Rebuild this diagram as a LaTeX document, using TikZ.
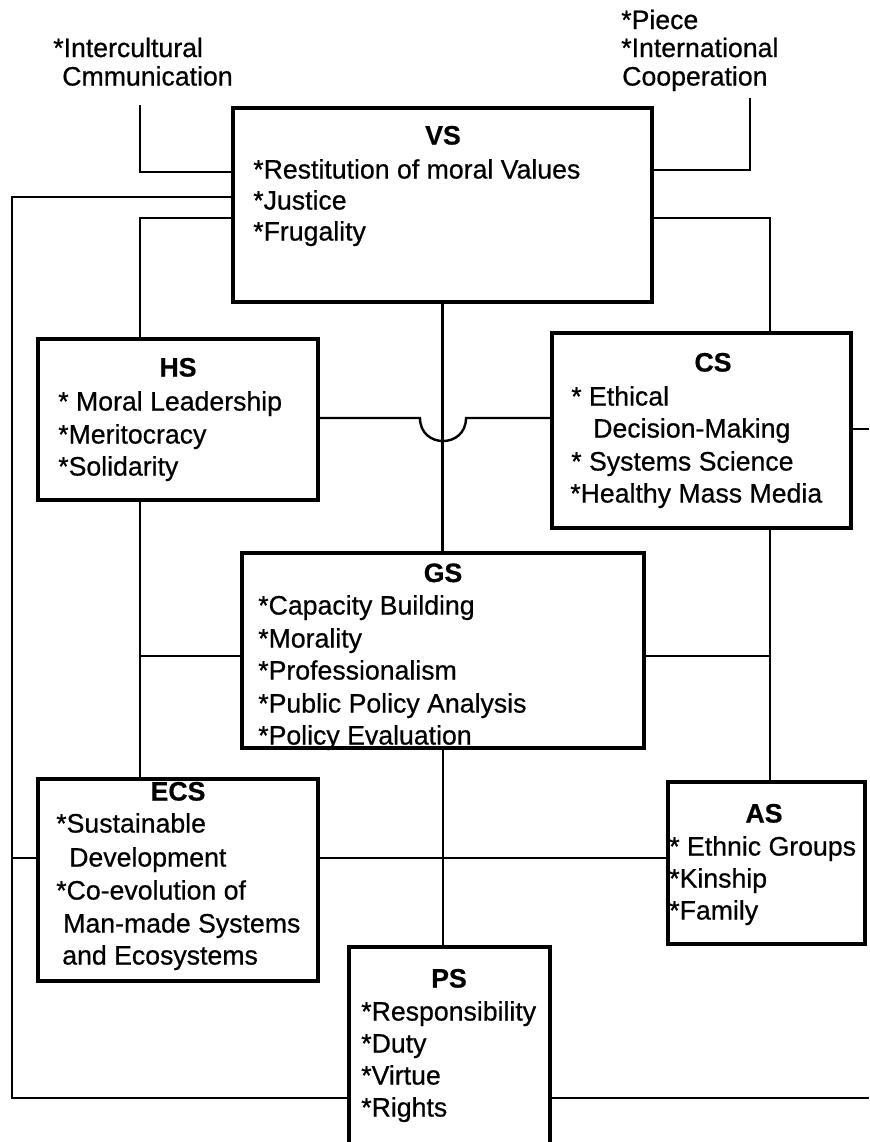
\documentclass[tikz,border=0pt]{standalone}
\usepackage{fontspec}
\setmainfont{Liberation Sans}[FakeBold=0.6]
\begin{document}
\begin{tikzpicture}[x=0.75pt,y=-0.75pt,
  sysbox/.style 2 args={draw=black, line width=2.4pt, fill=white, inner sep=0pt, outer sep=0pt,
    minimum width=#1*0.75pt, minimum height=#2*0.75pt},
  link/.style={draw=black, line width=1.8pt},
  item/.style={anchor=west, inner sep=0pt, text height=14.3pt, text depth=0pt,
    font=\fontsize{20}{24}\selectfont},
  head/.style={anchor=center, inner sep=0pt, text height=14.3pt, text depth=0pt,
    font=\fontsize{20}{24}\selectfont\bfseries},
]
\clip (0,0) rectangle (869,1142);

% subsystem boxes
\node[sysbox={419}{194}] (vs)  at (442.5,205)   {};
\node[sysbox={280}{161}] (hs)  at (178,419.5)   {};
\node[sysbox={299}{195}] (cs)  at (701.5,430.5) {};
\node[sysbox={402}{195}] (gs)  at (443,650.5)   {};
\node[sysbox={280}{202}] (ecs) at (178,880)     {};
\node[sysbox={197}{162}] (as)  at (766.5,863)   {};
\node[sysbox={201}{226}] (ps)  at (449.5,1060)  {};

% bend points and free ends of the connectors
\coordinate (icEnd)  at (140,105);
\coordinate (icBend) at (140,172);
\coordinate (pcEnd)  at (750,98);
\coordinate (pcBend) at (750,170);
\coordinate (lrTop)  at (12,197);
\coordinate (lrMid)  at (12,858);
\coordinate (lrBot)  at (12,1098);
\coordinate (hsRail) at (140,218);
\coordinate (csRail) at (770,218);
\coordinate (gsW)    at (140,656);
\coordinate (gsE)    at (770,656);
\coordinate (csOut)  at (869,429);
\coordinate (psOut)  at (869,1098);
\coordinate (jumpL)  at (420,418);
\coordinate (jumpR)  at (466,418);

% connectors
\draw[link] (icEnd) -- (icBend) -- (vs.west |- icBend);
\draw[link] (pcEnd) -- (pcBend) -- (vs.east |- pcBend);
\draw[link] (vs.west |- lrTop) -- (lrTop) -- (lrBot) -- (ps.west |- lrBot);
\draw[link] (ecs.west |- lrMid) -- (lrMid);
\draw[link] (ps.east |- psOut) -- (psOut);
\draw[link] (cs.east |- csOut) -- (csOut);
\draw[link] (vs.west |- hsRail) -- (hsRail) -- (hs.north -| hsRail);
\draw[link] (hs.south -| hsRail) -- (ecs.north -| hsRail);
\draw[link] (vs.east |- csRail) -- (csRail) -- (cs.north -| csRail);
\draw[link] (cs.south -| csRail) -- (as.north -| csRail);
\draw[link] (gs.west |- gsW) -- (gsW);
\draw[link] (gs.east |- gsE) -- (gsE);
\draw[link] (vs.south) -- (gs.north -| vs.south);
\draw[link] (gs.south) -- (ps.north -| gs.south);
\draw[link] (ecs.east |- lrMid) -- (as.west |- lrMid);
\draw[link] (hs.east |- jumpL) -- (jumpL)
  .. controls +(0,30.7) and +(0,30.7) .. (jumpR) -- (cs.west |- jumpR);

% outside labels
\node[item] (ic-1) at (53,47.5) {*Intercultural};
\node[item] (ic-2) at (62,76)   {Cmmunication};
\node[item] (pc-1) at (621,19.5) {*Piece};
\node[item] (pc-2) at (621,47.5) {*International};
\node[item] (pc-3) at (622,76)   {Cooperation};

% box contents
\node[head] (vs-h) at (443,135) {VS};
\foreach \xx/\yy/\t [count=\k] in {253/169/{*Restitution of moral Values}, 253/200/{*Justice}, 253/231/{*Frugality}}
  \node[item] (vs-\k) at (\xx,\yy) {\t};

\node[head] (hs-h) at (178,367) {HS};
\foreach \xx/\yy/\t [count=\k] in {58/401/{* Moral Leadership}, 58/434/{*Meritocracy}, 58/466/{*Solidarity}}
  \node[item] (hs-\k) at (\xx,\yy) {\t};

\node[head] (cs-h) at (713,362) {CS};
\foreach \xx/\yy/\t [count=\k] in {571/396/{* Ethical}, 593/428/{Decision-Making}, 571/461/{* Systems Science}, 570/493/{*Healthy Mass Media}}
  \node[item] (cs-\k) at (\xx,\yy) {\t};

\node[head] (gs-h) at (443,572.5) {GS};
\foreach \xx/\yy/\t [count=\k] in {258/605/{*Capacity Building}, 258/638/{*Morality}, 258/670/{*Professionalism}, 258/703/{*Public Policy Analysis}, 258/735/{*Policy Evaluation}}
  \node[item] (gs-\k) at (\xx,\yy) {\t};

\node[head] (ecs-h) at (178,791) {ECS};
\foreach \xx/\yy/\t [count=\k] in {56/823/{*Sustainable}, 69/857/{Development}, 56/890/{*Co-evolution of}, 63/923/{Man-made Systems}, 62/955/{and Ecosystems}}
  \node[item] (ecs-\k) at (\xx,\yy) {\t};

\node[head] (as-h) at (764,813) {AS};
\foreach \xx/\yy/\t [count=\k] in {669/846/{* Ethnic Groups}, 669/878/{*Kinship}, 669/910/{*Family}}
  \node[item] (as-\k) at (\xx,\yy) {\t};

\node[head] (ps-h) at (449,978) {PS};
\foreach \xx/\yy/\t [count=\k] in {361/1011/{*Responsibility}, 361/1043/{*Duty}, 361/1075/{*Virtue}, 361/1107/{*Rights}}
  \node[item] (ps-\k) at (\xx,\yy) {\t};
\end{tikzpicture}
\end{document}
